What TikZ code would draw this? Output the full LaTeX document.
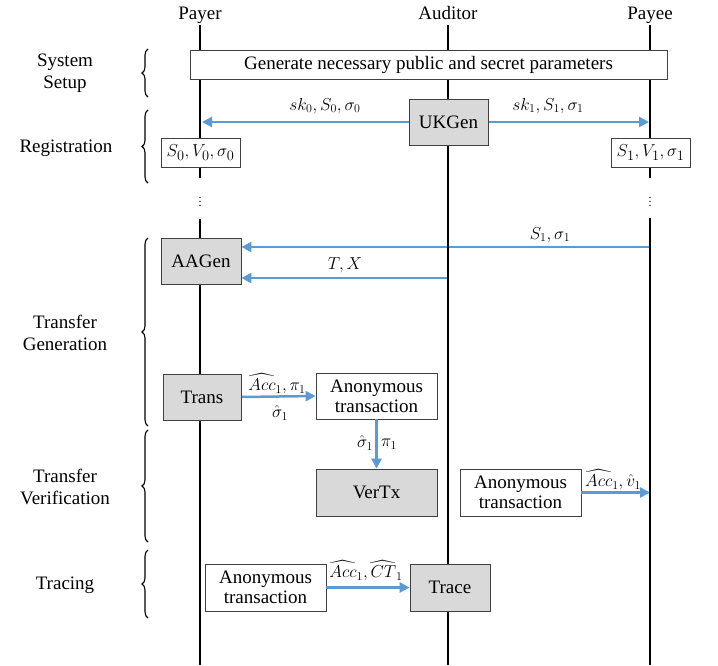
\documentclass[tikz,border=0pt]{standalone}
\usepackage{amsmath}
\usepackage{fontspec}
\setmainfont{Liberation Serif}
\usetikzlibrary{arrows.meta,decorations.pathreplacing}
\definecolor{flow}{RGB}{91,155,213}
\definecolor{procfill}{RGB}{217,217,217}
\begin{document}
\begin{tikzpicture}[x=1pt,y=-1pt,
  every node/.style={font=\fontsize{19}{22}\selectfont},
  plain/.style={draw=black!75, line width=0.8pt, fill=white, inner sep=0pt, align=center},
  proc/.style={plain, fill=procfill},
  life/.style={line width=2.5pt},
  msg/.style={draw=flow, line width=2.5pt, -{Triangle[length=10pt,width=10pt]}},
  phase/.style={decorate, decoration={brace, amplitude=6pt}, line width=1.1pt},
  lbl/.style={inner sep=0pt, font=\fontsize{18}{20}\selectfont},
  head/.style={anchor=base},
  side/.style={align=center},
  dots/.style={inner sep=0pt, font=\fontsize{12}{12}\selectfont}
]
\useasboundingbox (0,0) rectangle (718,665);

% headers
\node[head] (hpayer) at (200,19) {Payer};
\node[head] (haud) at (448,19) {Auditor};
\node[head] (hpayee) at (650,19) {Payee};

% lifeline coordinates
\coordinate (pa0) at (200,25);
\coordinate (pa1) at (200,178);
\coordinate (pa2) at (200,219);
\coordinate (pa3) at (200,665);
\coordinate (au0) at (448,25);
\coordinate (au1) at (448,665);
\coordinate (pe0) at (650,25);
\coordinate (pe1) at (650,178);
\coordinate (pe2) at (650,218);
\coordinate (pe3) at (650,665);

% boxes (defined first so arrows can refer to them)
\node[plain, minimum width=477pt, minimum height=29pt] (setup) at (428.5,64.5) {Generate necessary public and secret parameters};
\node[proc, minimum width=79pt, minimum height=46pt] (ukgen) at (448.5,122) {UKGen};
\node[plain, minimum width=79pt, minimum height=29pt] (s0) at (200.5,152.5) {$S_0,V_0,\sigma_0$};
\node[plain, minimum width=79pt, minimum height=29pt] (s1) at (650.5,152.5) {$S_1,V_1,\sigma_1$};
\node[proc, minimum width=80pt, minimum height=46pt] (aagen) at (201,261) {AAGen};
\node[proc, minimum width=78pt, minimum height=46pt] (trans) at (202,397) {Trans};
\node[plain, minimum width=121pt, minimum height=46pt] (anon1) at (376.5,396) {Anonymous\\[-2pt]transaction};
\node[proc, minimum width=121pt, minimum height=47pt] (vertx) at (376.5,492.5) {VerTx};
\node[plain, minimum width=121pt, minimum height=47pt] (anon2) at (520.5,492.5) {Anonymous\\[-2pt]transaction};
\node[plain, minimum width=121pt, minimum height=47pt] (anon3) at (265.5,587.5) {Anonymous\\[-2pt]transaction};
\node[proc, minimum width=80pt, minimum height=47pt] (trace) at (450,587.5) {Trace};

% arrow end points on lifelines
\coordinate (m0) at (202,122);
\coordinate (m1) at (649,122);
\coordinate (m2) at (650,247);
\coordinate (m3) at (448,278);
\coordinate (m4) at (650,492.5);

% messages
\draw[msg] (ukgen.west) -- (m0);
\draw[msg] (ukgen.east) -- (m1);
\draw[msg] (m2) -- (aagen.east |- m2);
\draw[msg] (m3) -- (aagen.east |- m3);
\draw[msg] (trans.east) -- (anon1.west);
\draw[msg] (anon1.south) -- (vertx.north);
\draw[msg] (anon2.east) -- (m4);
\draw[msg] (anon3.east) -- (trace.west);

% lifelines
\draw[life] (pa0) -- (pa1) (pa2) -- (pa3);
\draw[life] (au0) -- (au1);
\draw[life] (pe0) -- (pe1) (pe2) -- (pe3);

% boxes redrawn on top of lifelines
\node[plain, minimum width=477pt, minimum height=29pt] at (setup) {Generate necessary public and secret parameters};
\node[proc, minimum width=79pt, minimum height=46pt] at (ukgen) {UKGen};
\node[plain, minimum width=79pt, minimum height=29pt] at (s0) {$S_0,V_0,\sigma_0$};
\node[plain, minimum width=79pt, minimum height=29pt] at (s1) {$S_1,V_1,\sigma_1$};
\node[proc, minimum width=80pt, minimum height=46pt] at (aagen) {AAGen};
\node[proc, minimum width=78pt, minimum height=46pt] at (trans) {Trans};
\node[proc, minimum width=80pt, minimum height=47pt] at (trace) {Trace};

% dots
\node[dots] (dpa) at (200,199) {$\vdots$};
\node[dots] (dpe) at (650,199) {$\vdots$};

% message labels
\node[lbl] (l0) at (325,106) {$sk_0,S_0,\sigma_0$};
\node[lbl] (l1) at (548,106) {$sk_1,S_1,\sigma_1$};
\node[lbl] (l2) at (550,235) {$S_1,\sigma_1$};
\node[lbl] (l3) at (345,265) {$T,X$};
\node[lbl] (l4) at (277,384) {$\widehat{Acc}_1,\pi_1$};
\node[lbl] (l5) at (280,413) {$\hat{\sigma}_1$};
\node[lbl] (l6) at (365,443) {$\hat{\sigma}_1$};
\node[lbl] (l7) at (389,444) {$\pi_1$};
\node[lbl] (l8) at (613,480) {$\widehat{Acc}_1,\hat{v}_1$};
\node[lbl] (l9) at (366,571) {$\widehat{Acc}_1,\widehat{CT}_1$};

% phases
\draw[phase] (148,97) -- (148,49);
\draw[phase] (148,183) -- (148,110);
\draw[phase] (148,426) -- (148,238);
\draw[phase] (148,542) -- (148,430);
\draw[phase] (148,618) -- (148,550);

\node[side] (tsetup) at (65,73) {System\\Setup};
\node[side] (treg) at (66,148) {Registration};
\node[side] (tgen) at (65,333) {Transfer\\Generation};
\node[side] (tver) at (65,487) {Transfer\\Verification};
\node[side] (ttrace) at (65,585) {Tracing};
\end{tikzpicture}
\end{document}
